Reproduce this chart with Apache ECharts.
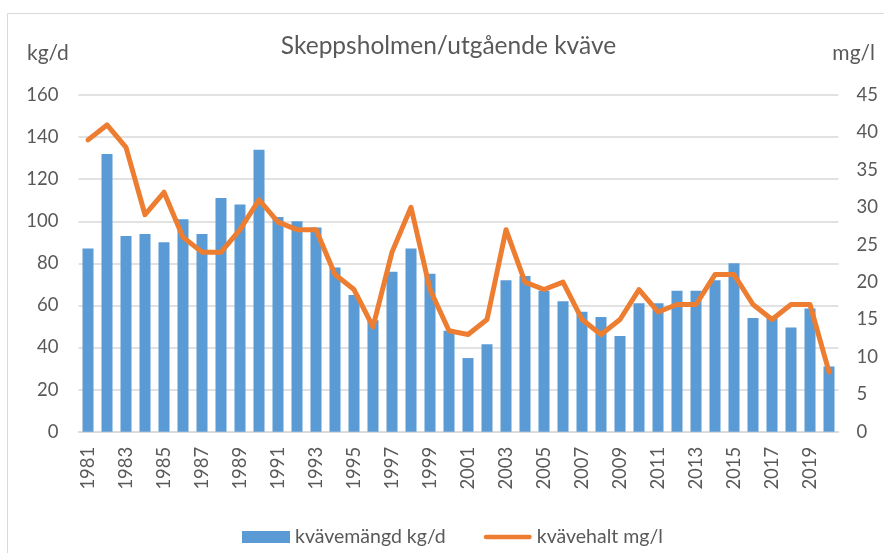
<!DOCTYPE html>
<html>
<head>
<meta charset="utf-8">
<script src="https://cdn.jsdelivr.net/npm/echarts@6/dist/echarts.min.js"></script>
<style>html,body{margin:0;padding:0;background:#fff;}#c{width:884px;height:553px;}</style>
</head>
<body>
<div id="c"></div>
<script>
var years = [];
for (var y = 1981; y <= 2020; y++) years.push(String(y));
var kvavemangd = [87,132,93,94,90,101,94,111,108,134,102,100,97,78,65,53,76,87,75,48,35,41.5,72,74,67,62,57,54.5,45.5,61,61,67,67,72,80,54,54,49.5,58.5,31];
var kvavehalt = [39,41,38,29,32,26,24,24,27,31,28,27,27,21,19,14,24,30,19,13.5,13,15,27,20,19,20,15,13,15,19,16,17,17,21,21,17,15,17,17,8];
var leftTicks = {min:0, max:160, interval:20};
var rightTicks = {min:0, max:45, interval:5};
var FONT = 'Lato';
var chart = echarts.init(document.getElementById('c'), null, {renderer:'canvas'});
chart.setOption({
  animation:false,
  backgroundColor:'#fff',
  textStyle:{fontFamily:FONT},
  graphic:[
    {type:'rect', shape:{x:7.5,y:13.5,width:900,height:600}, style:{fill:'none',stroke:'#d9d9d9',lineWidth:1}, silent:true},
    {type:'text', x:448.5, y:34, style:{text:'Skeppsholmen/utgående kväve', font:'24.5px '+FONT, fill:'#595959', align:'center'}},
    {type:'text', x:27, y:43, style:{text:'kg/d', font:'21px '+FONT, fill:'#595959'}},
    {type:'text', x:875, y:43, style:{text:'mg/l', font:'21px '+FONT, fill:'#595959', align:'right'}}
  ],
  legend:{
    left:242, top:527, padding:0, itemWidth:48, itemHeight:12, itemGap:38,
    textStyle:{fontSize:19.5, color:'#595959', fontFamily:FONT},
    data:[{name:'kvävemängd kg/d', icon:'rect'},{name:'kvävehalt mg/l', icon:'path://M2,0 L48,0 A2,2 0 0 1 48,5 L2,5 A2,2 0 0 1 2,0 Z'}]
  },
  grid:{left:78.5, right:45.5, top:95, bottom:121.3, containLabel:false},
  xAxis:{
    type:'category', data:years,
    axisLine:{lineStyle:{color:'#d9d9d9', width:1.5}},
    axisTick:{show:false},
    axisLabel:{interval:1, rotate:90, fontSize:18.5, color:'#595959', margin:15, fontFamily:FONT}
  },
  yAxis:[
    {type:'value', min:leftTicks.min, max:leftTicks.max, interval:leftTicks.interval,
     axisLine:{show:false}, axisTick:{show:false},
     axisLabel:{fontSize:18.5, color:'#595959', margin:20, fontFamily:FONT},
     splitLine:{lineStyle:{color:'#d9d9d9', width:1.5}}},
    {type:'value', min:rightTicks.min, max:rightTicks.max, interval:rightTicks.interval,
     axisLine:{show:false}, axisTick:{show:false},
     axisLabel:{fontSize:18.5, color:'#595959', margin:18, fontFamily:FONT},
     splitLine:{show:false}}
  ],
  series:[
    {name:'kvävemängd kg/d', type:'bar', data:kvavemangd, barWidth:11, itemStyle:{color:'#5b9bd5'}},
    {name:'kvävehalt mg/l', type:'line', yAxisIndex:1, data:kvavehalt, symbol:'none', showSymbol:false,
     lineStyle:{color:'#ed7d31', width:5, join:'round', cap:'round'}, itemStyle:{color:'#ed7d31'}}
  ]
});
</script>
</body>
</html>
